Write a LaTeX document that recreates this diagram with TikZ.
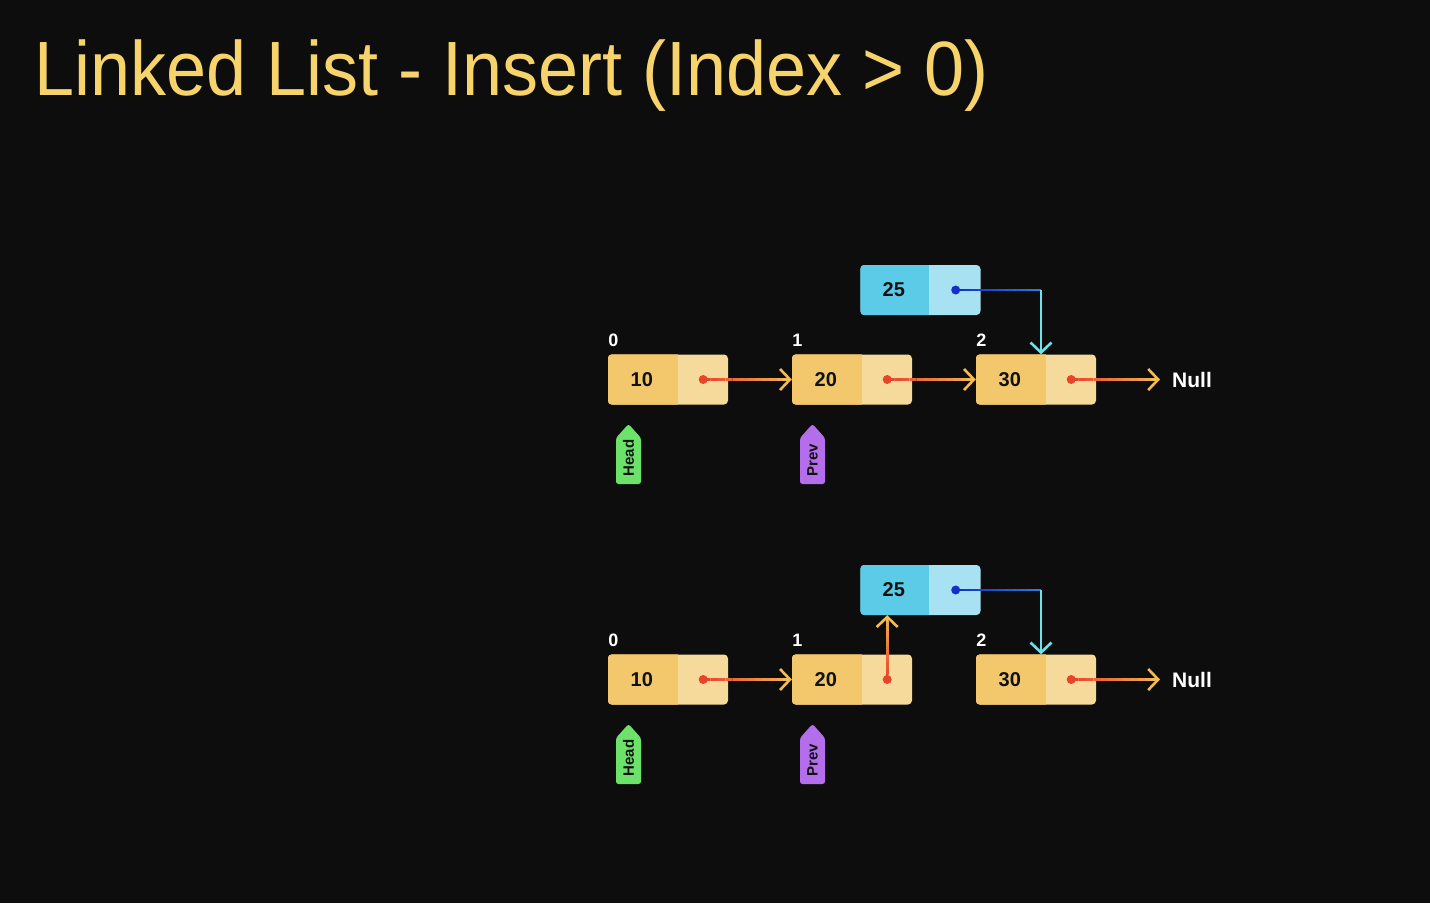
\documentclass[tikz,border=0pt]{standalone}
\usepackage{fontspec}
\usepackage{graphicx}
\setmainfont{Liberation Sans}
\usetikzlibrary{arrows.meta,calc}

\definecolor{bg}{HTML}{0D0D0D}
\definecolor{titlecol}{HTML}{F7D36C}
\definecolor{valY}{HTML}{F3C86C}
\definecolor{ptrY}{HTML}{F6DA9B}
\definecolor{valB}{HTML}{5CCBE8}
\definecolor{ptrB}{HTML}{A8E2F2}
\definecolor{dotR}{HTML}{E8442A}
\definecolor{linkY}{HTML}{F2BC55}
\definecolor{linkB}{HTML}{1230C8}
\definecolor{linkM}{HTML}{2F7FDC}
\definecolor{linkC}{HTML}{6BE3EC}
\definecolor{headG}{HTML}{6CE26A}
\definecolor{prevP}{HTML}{B46DEB}
\definecolor{ink}{HTML}{111111}

\tikzset{
  cellbox/.style={rectangle, inner sep=0pt, minimum width=120pt, minimum height=50pt, rounded corners=4pt},
  valtext/.style={font=\bfseries\fontsize{20}{20}\selectfont, text=ink, inner sep=0pt},
  idxtext/.style={font=\bfseries\fontsize{18}{18}\selectfont, text=white, inner sep=0pt, anchor=base},
  nulltext/.style={font=\bfseries\fontsize{21}{21}\selectfont, text=white, inner ysep=0pt, inner xsep=12pt, anchor=west},
  tagtext/.style={font=\bfseries\fontsize{15}{15}\selectfont, text=ink, inner sep=0pt, rotate=90, anchor=west},
  tip/.style={-{Straight Barb[length=10pt,width=21pt]}},
  wire/.style={line width=2.6pt, line cap=butt},
}

% one list cell: name, x, y, value, value colour, pointer colour, value width
\newcommand\cell[7]{%
  \node[cellbox, fill=#6] (#1) at (#2,#3) {};
  \begin{scope}
    \clip[rounded corners=4pt] (#1.north west) rectangle (#1.south east);
    \fill[#5] (#1.north west) rectangle ($(#1.south west)+(#7,0)$);
  \end{scope}
  \node[valtext] (#1v) at ($(#1.west)+(#7/2-1,0)$) {#4};
  \coordinate (#1d) at ($(#1.east)+(-25,0)$);
}

% straight wire shading from one colour to another, tip at the end
\newcommand\gradlink[4]{%
  \foreach \i in {1,...,11}{
    \pgfmathsetmacro\ta{(\i-1)/12}
    \pgfmathsetmacro\tb{\i/12}
    \pgfmathtruncatemacro\pc{100*(1-\ta)}
    \draw[wire, color=#3!\pc!#4] ($(#1)!\ta!(#2)$) -- ($(#1)!\tb!(#2)$);
  }
  \draw[wire, tip, color=#4] ($(#1)!0.9!(#2)$) -- (#2);
}

% plain shaded segment without tip
\newcommand\gradline[4]{%
  \foreach \i in {1,...,12}{
    \pgfmathsetmacro\ta{(\i-1)/12}
    \pgfmathsetmacro\tb{\i/12}
    \pgfmathtruncatemacro\pc{100*(1-\ta)}
    \draw[wire, color=#3!\pc!#4] ($(#1)!\ta!(#2)$) -- ($(#1)!\tb!(#2)$);
  }
}

% pointer tag: name, x, fill, label
\newcommand\ptrtag[4]{%
  \fill[#3, rounded corners=2.5pt] (#2-12.5,484) -- (#2-12.5,438) -- (#2,424) -- (#2+12.5,438) -- (#2+12.5,484) -- cycle;
  \node[tagtext] (#1) at (#2,476.5) {#4};
}

\begin{document}
\begin{tikzpicture}[x=1pt, y=-1pt]
  \useasboundingbox (0,0) rectangle (1430,903);
  \fill[bg] (0,0) rectangle (1430,903);

  \node[anchor=base west, inner sep=0pt, text=titlecol, font=\fontsize{77}{77}\selectfont] (title) at (34,95) {\scalebox{0.935}[1]{Linked List - Insert (Index > 0)}};

  % ---------- before: new node 25 points at 30 ----------
  \cell{a1}{668}{379.5}{10}{valY}{ptrY}{70}
  \cell{a2}{852}{379.5}{20}{valY}{ptrY}{70}
  \cell{a3}{1036}{379.5}{30}{valY}{ptrY}{70}
  \cell{q1}{920.5}{290}{25}{valB}{ptrB}{69}

  \node[idxtext] (i10) at ($(a1.north west)+(5.5,-8)$) {0};
  \node[idxtext] (i11) at ($(a2.north west)+(5.5,-8)$) {1};
  \node[idxtext] (i12) at ($(a3.north west)+(5.5,-8)$) {2};
  \node[nulltext] (z1) at (1160,379.5) {Null};

  \gradlink{a1d}{a2.west}{dotR}{linkY}
  \gradlink{a2d}{a3.west}{dotR}{linkY}
  \gradlink{a3d}{z1.west}{dotR}{linkY}

  \coordinate (t1) at ($(a3.north)+(5,0)$);
  \coordinate (k1) at (q1d -| t1);
  \gradline{q1d}{k1}{linkB}{linkM}
  \draw[wire, tip, linkC] (k1) -- (t1);

  \foreach \d in {a1d,a2d,a3d} \fill[dotR] (\d) circle (4.5);
  \fill[linkB] (q1d) circle (4.5);

  \ptrtag{h1}{628.5}{headG}{Head}
  \ptrtag{p1}{812.5}{prevP}{Prev}

  % ---------- after: 20 now points at 25 ----------
  \begin{scope}[shift={(0,300)}]
    \cell{b1}{668}{379.5}{10}{valY}{ptrY}{70}
    \cell{b2}{852}{379.5}{20}{valY}{ptrY}{70}
    \cell{b3}{1036}{379.5}{30}{valY}{ptrY}{70}
    \cell{q2}{920.5}{290}{25}{valB}{ptrB}{69}

    \node[idxtext] (i20) at ($(b1.north west)+(5.5,-8)$) {0};
    \node[idxtext] (i21) at ($(b2.north west)+(5.5,-8)$) {1};
    \node[idxtext] (i22) at ($(b3.north west)+(5.5,-8)$) {2};
    \node[nulltext] (z2) at (1160,379.5) {Null};

    \gradlink{b1d}{b2.west}{dotR}{linkY}
    \coordinate (u2) at (b2d |- q2.south);
    \gradlink{b2d}{u2}{dotR}{linkY}
    \gradlink{b3d}{z2.west}{dotR}{linkY}

    \coordinate (t2) at ($(b3.north)+(5,0)$);
    \coordinate (k2) at (q2d -| t2);
    \gradline{q2d}{k2}{linkB}{linkM}
    \draw[wire, tip, linkC] (k2) -- (t2);

    \foreach \d in {b1d,b2d,b3d} \fill[dotR] (\d) circle (4.5);
    \fill[linkB] (q2d) circle (4.5);

    \ptrtag{h2}{628.5}{headG}{Head}
    \ptrtag{p2}{812.5}{prevP}{Prev}
  \end{scope}
\end{tikzpicture}
\end{document}
